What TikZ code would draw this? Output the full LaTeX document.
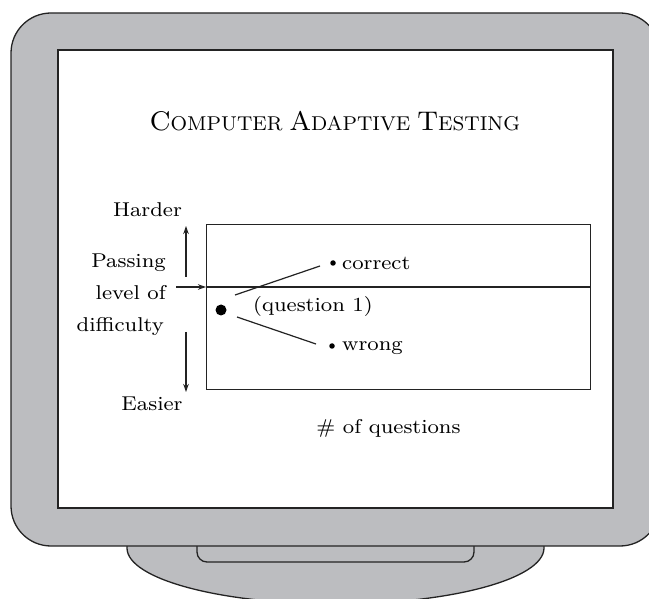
\documentclass[tikz,border=0pt]{standalone}
\usepackage{fontspec}
\setmainfont{lmroman8-regular}[Extension=.otf, FakeStretch=1.07]
\newfontfamily\titlefont{lmroman8-regular}[Extension=.otf]
\usetikzlibrary{arrows.meta}
\definecolor{bezel}{RGB}{188,189,192}
\definecolor{ink}{RGB}{35,35,35}
\tikzset{
  frameline/.style={draw=ink, line width=1.3pt},
  lbl/.style={inner sep=0pt, font=\fontsize{20}{24}\selectfont, text=black},
  arr/.style={-{Stealth[length=8pt,width=5.5pt]}, line width=1.1pt, draw=ink},
  dotbig/.style={circle, fill=black, inner sep=0pt, minimum size=11pt},
  dotsmall/.style={circle, fill=black, inner sep=0pt, minimum size=5.5pt},
  ptr/.style={draw=ink, line width=1.2pt},
}
\newcommand{\tsc}[2]{{\fontsize{27}{27}\selectfont #1}{\fontsize{20}{20}\selectfont #2}}
\begin{document}
\begin{tikzpicture}[x=1pt,y=-1pt]
\useasboundingbox (0,0) rectangle (649,599);
\clip (0,0) rectangle (649,599);
% stand
\draw[frameline, fill=bezel] (127,530) -- (127,548) arc[start angle=180, end angle=0, x radius=208.5, y radius=56] -- (544,530) -- cycle;
\draw[frameline, fill=bezel, rounded corners=10pt] (197,530) rectangle (474,562);
% monitor
\draw[frameline, fill=bezel, rounded corners=40pt] (11,13) rectangle (660,546);
\draw[frameline, fill=white] (58,50) rectangle (613,508);
% title
\node[inner sep=0pt, text=black, anchor=base, font={\titlefont\fontsize{20}{24}\selectfont}] (title) at (335,131) {\tsc{C}{OMPUTER} \tsc{A}{DAPTIVE} \tsc{T}{ESTING}};
% plot box
\node[draw=ink, line width=1.3pt, minimum width=384pt, minimum height=165pt, inner sep=0pt, anchor=north west] (plot) at (206,224) {};
\coordinate (midL) at (206,287);
\coordinate (midR) at (590,287);
\draw[ink, line width=1.3pt] (midL) -- (midR);
% left labels
\node[lbl, anchor=base] (harder) at (147.5,217) {Harder};
\node[lbl, anchor=base east] (pass1) at (166,268) {Passing};
\node[lbl, anchor=base east] (pass2) at (166,300) {level of};
\node[lbl, anchor=base east] (pass3) at (164,332) {difficulty};
\node[lbl, anchor=base] (easier) at (152,410) {Easier};
% arrows
\coordinate (pa) at (176,287);
\draw[arr] (pa) -- (midL);
\coordinate (ua) at (186,277);
\coordinate (ub) at (186,226);
\draw[arr] (ua) -- (ub);
\coordinate (da) at (186,332);
\coordinate (db) at (186,392);
\draw[arr] (da) -- (db);
% dots and pointers
\node[dotbig] (q1) at (221,310) {};
\node[dotsmall] (dc) at (333,263) {};
\node[dotsmall] (dw) at (332,346) {};
\coordinate (c1) at (235,295);
\coordinate (c2) at (320,266);
\draw[ptr] (c1) -- (c2);
\coordinate (w1) at (237,317);
\coordinate (w2) at (316,344);
\draw[ptr] (w1) -- (w2);
\node[lbl, anchor=base west] (correct) at (342,270) {correct};
\node[lbl, anchor=base west] (wrong) at (342,350) {wrong};
\node[lbl, anchor=base west] (qone) at (253,312) {(question 1)};
\node[lbl, anchor=base] (nq) at (388.5,433) {\# of questions};
\end{tikzpicture}
\end{document}
